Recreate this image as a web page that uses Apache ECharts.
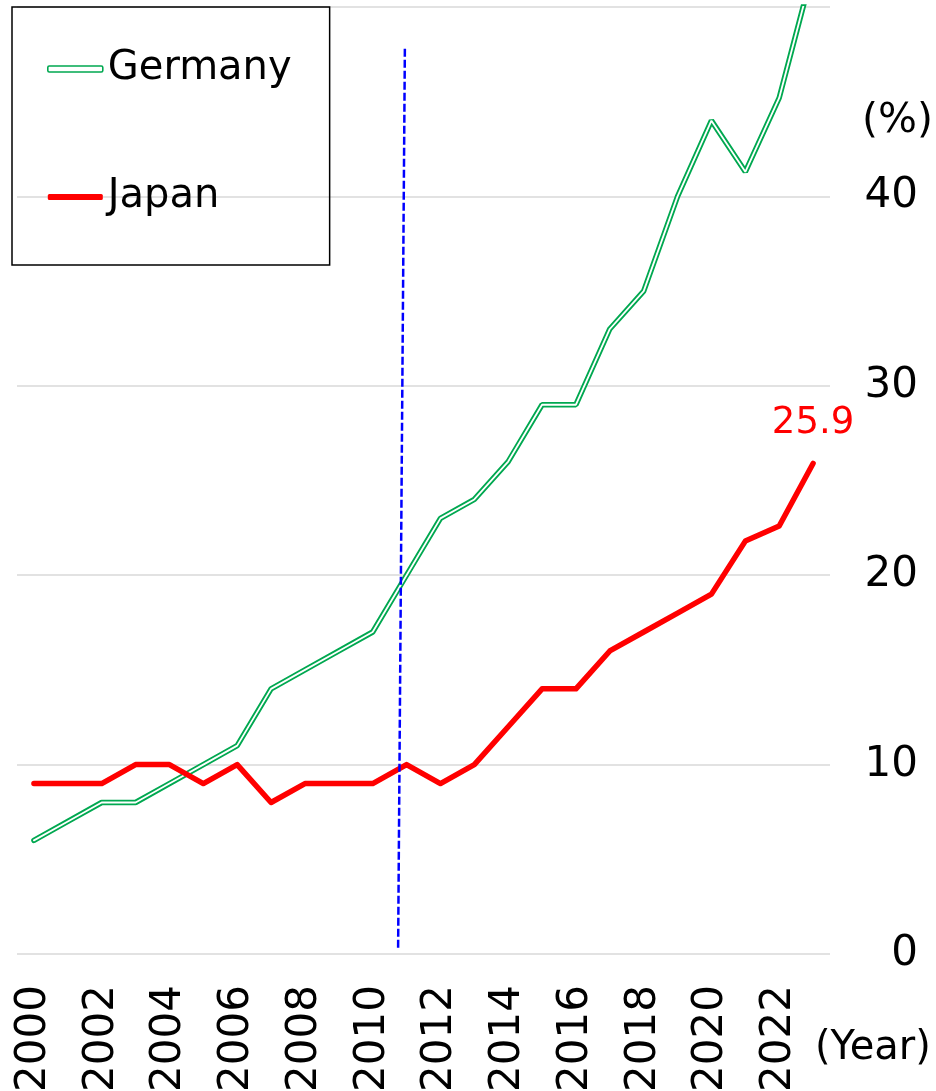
<!DOCTYPE html>
<html>
<head>
<meta charset="utf-8">
<script src="https://cdn.jsdelivr.net/npm/echarts@6/dist/echarts.min.js"></script>
<style>
  html, body { margin: 0; padding: 0; background: #fff; }
  #chart { width: 936px; height: 1091px; }
</style>
</head>
<body>
<div id="chart"></div>
<script>
// years on the x axis
var years = ['2000', '2001', '2002', '2003', '2004', '2005', '2006', '2007', '2008', '2009', '2010', '2011',
  '2012', '2013', '2014', '2015', '2016', '2017', '2018', '2019', '2020', '2021', '2022', '2023'];
// share in %
var germany = [6, 7, 8, 8, 9, 10, 11, 14, 15, 16, 17, 20, 23, 24, 26, 29, 29, 33, 35, 40, 44, 41.3, 45.2, 52];
var japan = [9, 9, 9, 10, 10, 9, 10, 8, 9, 9, 9, 10, 9, 10, 12, 14, 14, 16, 17, 18, 19, 21.8, 22.6, 25.9];
// the dashed marker line around 2011 (x in category index, y in %)
var markerLine = [[10.95, 47.8], [10.75, 0.2]];
var yTicks = [0, 10, 20, 30, 40, 50];

var font = 'DejaVu Sans';
var green = '#00A850';
var last = japan.length - 1;

var chart = echarts.init(document.getElementById('chart'));
chart.setOption({
  animation: false,
  grid: { left: 17, right: 106, top: 7, bottom: 137, outerBoundsMode: 'none', containLabel: false },
  legend: {
    orient: 'vertical',
    left: 12,
    top: 7,
    padding: [42, 38, 48, 35],
    itemGap: 88,
    itemWidth: 55,
    itemHeight: 6,
    borderColor: '#000',
    borderWidth: 1.5,
    textStyle: { fontSize: 40, lineHeight: 40, color: '#000', fontFamily: font },
    data: [
      { name: 'Germany', icon: 'roundRect', itemStyle: { color: '#fff', borderColor: green, borderWidth: 1.6 } },
      { name: 'Japan', icon: 'roundRect', itemStyle: { color: '#ff0000', borderWidth: 0 } }
    ],
    selectedMode: false
  },
  xAxis: [{
    type: 'category',
    data: years,
    boundaryGap: true,
    axisLine: { show: false },
    axisTick: { show: false },
    axisLabel: { rotate: 90, interval: 1, fontSize: 42, margin: 31, color: '#000', fontFamily: font }
  }, {
    type: 'value',
    min: -0.5,
    max: 23.5,
    show: false
  }],
  yAxis: {
    type: 'value',
    position: 'right',
    min: yTicks[0],
    max: yTicks[yTicks.length - 1],
    interval: 10,
    axisLine: { show: false },
    axisTick: { show: false },
    splitLine: { lineStyle: { color: '#d9d9d9', width: 1.5 } },
    axisLabel: {
      showMaxLabel: false,
      fontSize: 42, color: '#000', fontFamily: font,
      align: 'right', margin: 88, padding: [0, 0, 16, 0]
    }
  },
  graphic: [
    { type: 'text', left: 862, top: 101, style: { text: '(%)', fontSize: 41, fontFamily: font, fill: '#000' } },
    { type: 'text', left: 815, top: 1029, style: { text: '(Year)', fontSize: 40, fontFamily: font, fill: '#000' } }
  ],
  series: [{
    name: 'Germany',
    type: 'line',
    data: germany,
    symbol: 'none',
    lineStyle: { color: green, width: 5.5, cap: 'round' },
    itemStyle: { color: green },
    silent: true
  }, {
    name: 'Germany-inner',
    type: 'line',
    data: germany,
    symbol: 'none',
    lineStyle: { color: '#fff', width: 1.8, cap: 'round' },
    silent: true
  }, {
    name: 'Japan',
    type: 'line',
    data: japan.map(function (v, i) {
      return i === last ? { value: v, label: { show: true } } : v;
    }),
    symbol: 'circle',
    symbolSize: 0,
    showAllSymbol: true,
    lineStyle: { color: '#ff0000', width: 5.5, cap: 'round', join: 'round' },
    itemStyle: { color: '#ff0000' },
    label: { show: false, position: 'top', distance: 22, color: '#ff0000', fontSize: 37, fontFamily: font },
    silent: true
  }, {
    name: 'marker',
    type: 'line',
    xAxisIndex: 1,
    data: markerLine,
    symbol: 'none',
    lineStyle: { color: '#0000ff', width: 2.5, type: [8, 3] },
    silent: true,
    z: 5
  }]
});
</script>
</body>
</html>
